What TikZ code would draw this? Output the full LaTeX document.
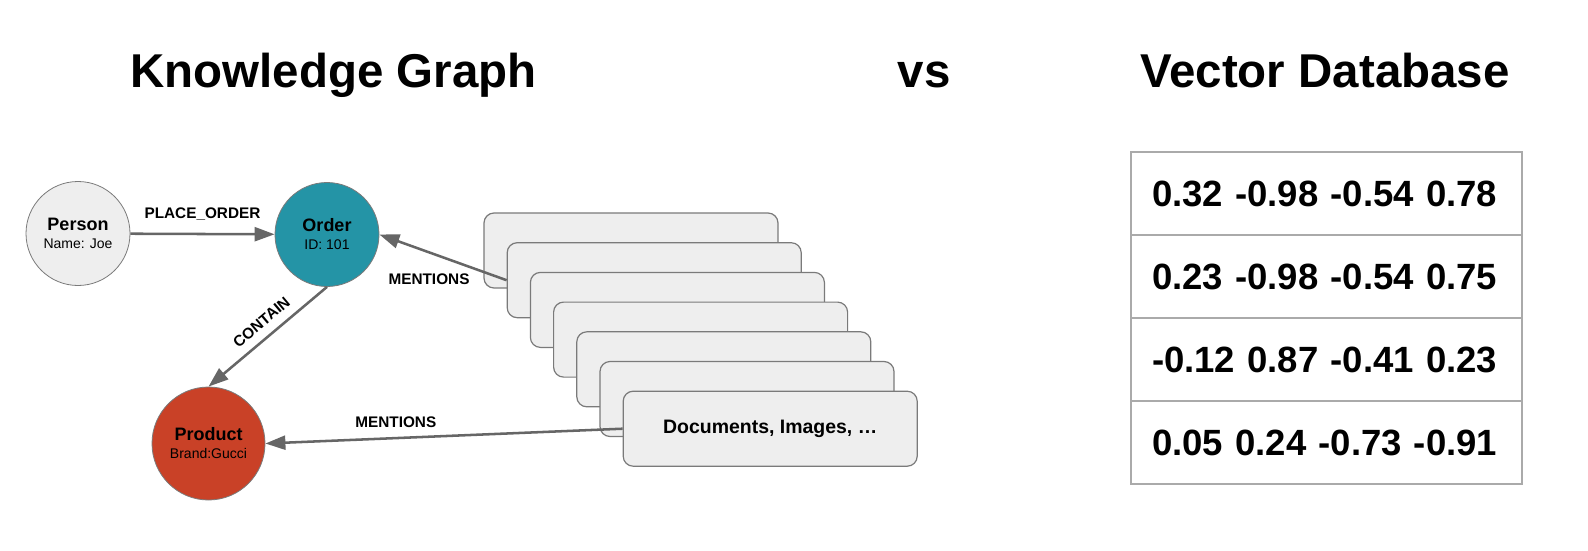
\documentclass[tikz,border=0pt]{standalone}
\usepackage{fontspec}
\setmainfont{Liberation Sans}
\usetikzlibrary{arrows.meta, positioning}

\definecolor{edgegray}{HTML}{666666}
\definecolor{nodeline}{HTML}{7A7A7A}
\definecolor{personfill}{HTML}{EEEEEE}
\definecolor{orderfill}{HTML}{2494A6}
\definecolor{productfill}{HTML}{C94127}
\definecolor{docfill}{HTML}{EEEEEE}
\definecolor{tableline}{HTML}{AAAAAA}

% second line inside an entity circle
\newcommand\propline[1]{{\fontsize{10.5}{12}\selectfont\mdseries #1}}

\begin{document}
\begin{tikzpicture}[x=0.75pt, y=-0.75pt,
    entity/.style={circle, draw=nodeline, line width=0.6pt, inner sep=0pt, align=center,
        font=\fontsize{13.5}{13.5}\selectfont\bfseries},
    edge/.style={edgegray, line width=1.9pt, -{Triangle[length=15pt, width=10.5pt]}},
    rel/.style={text=black, font=\fontsize{11.5}{13}\selectfont\bfseries, inner sep=2pt},
    docbox/.style={draw=nodeline, fill=docfill, rounded corners=7.5pt, line width=0.9pt,
        minimum width=220.5pt, minimum height=56.25pt},
    vecrow/.style={draw=tableline, line width=1.2pt, minimum height=62.25pt, text width=261.75pt,
        inner xsep=15.75pt, align=left, font=\fontsize{27.4}{30}\selectfont\bfseries},
    title/.style={anchor=base, font=\fontsize{35.6}{40}\selectfont\bfseries}
]

    % Fix the page to the reference size
    \useasboundingbox (0, 0) rectangle (1588, 550);

    % Titles
    \node[title] (kgtitle) at (333.5, 87) {Knowledge Graph};
    \node[title] (vstitle) at (924, 87) {vs};
    \node[title] (vdbtitle) at (1325, 87) {Vector Database};

    % Graph entities
    \node[entity, fill=personfill, minimum size=78pt] (person) at (78, 233.5) {Person\\\propline{Name: Joe}};
    \node[entity, fill=orderfill, minimum size=78pt] (order) at (327, 234.5) {Order\\\propline{ID: 101}};
    \node[entity, fill=productfill, minimum size=84.75pt] (product) at (208.5, 443.5) {Product\\\propline{Brand:Gucci}};

    % Stack of documents
    \foreach \i in {1, ..., 6} {
        \node[docbox] (d\i) at ({631 + 23.2*(\i-1)}, {250.5 + 29.7*(\i-1)}) {};
    }
    \node[docbox, font=\fontsize{14.6}{16}\selectfont\bfseries] (d7) at ({631 + 23.2*6}, {250.5 + 29.7*6}) {Documents, Images, …};

    % Relations
    \draw[edge] (person) -- node[rel, above=7pt] {PLACE\_ORDER} (order);
    \draw[edge] (order.south) -- node[rel, pos=0.47, sloped, above=4.5pt] {CONTAIN} (product.north);
    \draw[edge] (d2.west) -- node[rel, pos=0.61, below=13pt] {MENTIONS} (order.east);
    \draw[edge] (d7.west) -- node[rel, pos=0.635, above=5pt] {MENTIONS} (product.east);

    % Vector table
    \node[vecrow] (v1) at (1326.5, 193.5) {\mbox{0.32 -0.98 -0.54 0.78}};
    \node[vecrow] (v2) at (1326.5, 276.5) {\mbox{0.23 -0.98 -0.54 0.75}};
    \node[vecrow] (v3) at (1326.5, 359.5) {\mbox{-0.12 0.87 -0.41 0.23}};
    \node[vecrow] (v4) at (1326.5, 442.5) {\mbox{0.05 0.24 -0.73 -0.91}};

\end{tikzpicture}
\end{document}
